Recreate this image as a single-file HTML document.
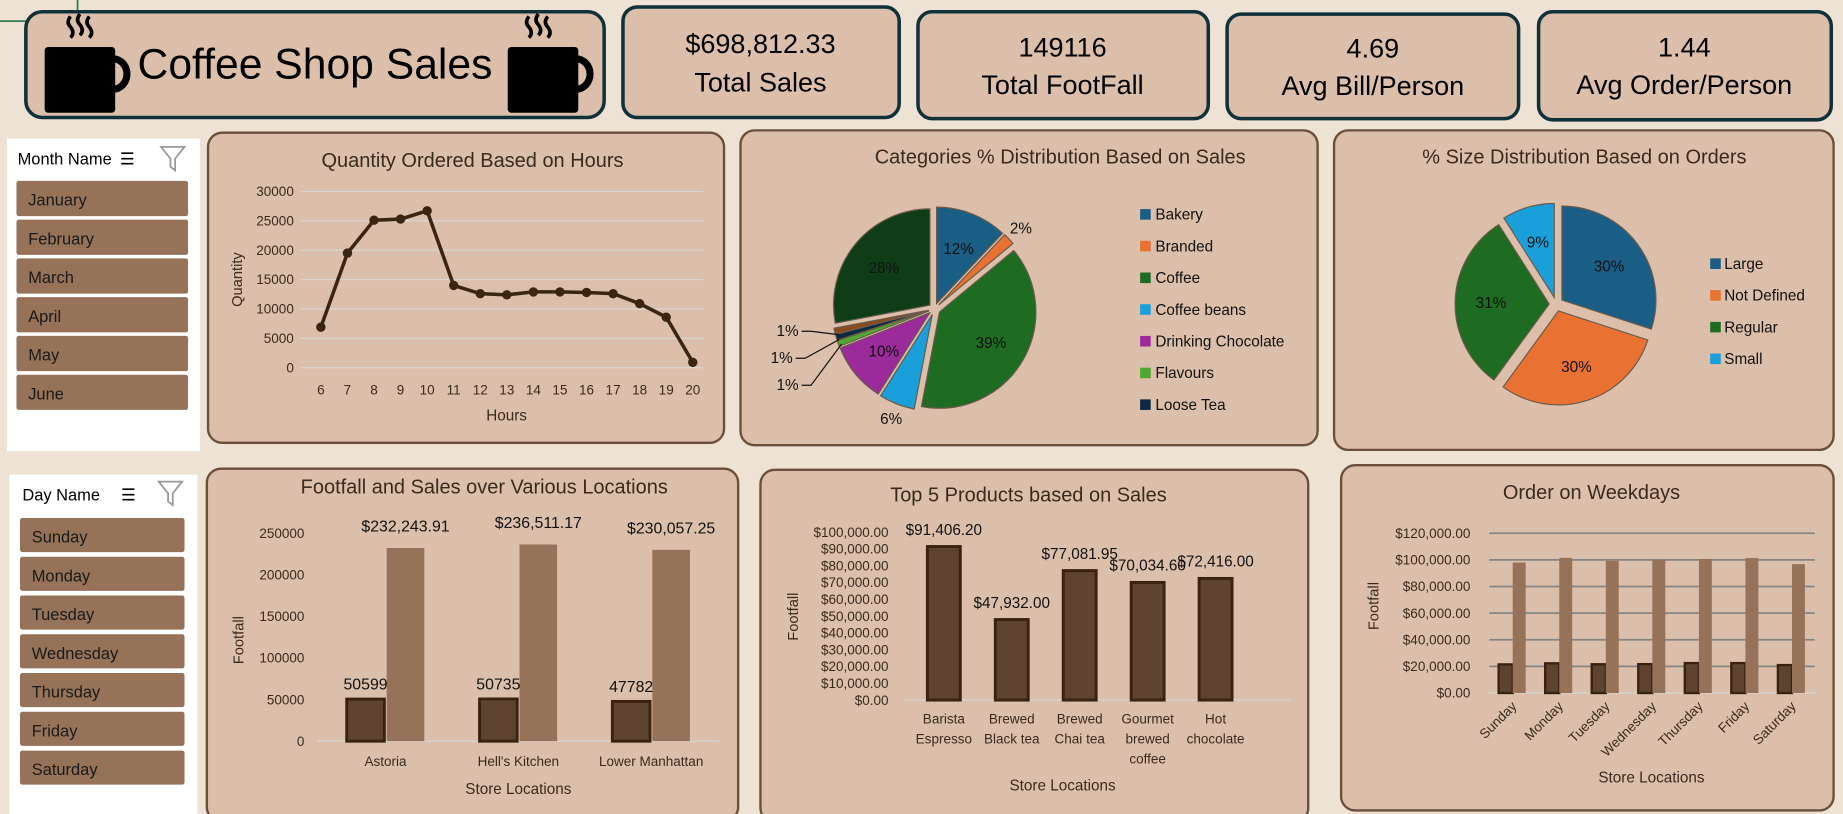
<!DOCTYPE html>
<html><head><meta charset="utf-8"><style>
html,body{margin:0;padding:0;background:#ede2d4;overflow:hidden}
svg{display:block;font-family:"Liberation Sans Narrow","Liberation Sans",sans-serif}
</style></head><body>
<svg id="root" width="1843" height="814" viewBox="0 0 1568 693" preserveAspectRatio="none" xmlns="http://www.w3.org/2000/svg">
<rect x="0" y="0" width="1568" height="693" fill="#ede2d4"/>
<path d="M0 18 H24 M66 0 V10" stroke="#2e7d4f" stroke-width="1.5" fill="none"/>
<g>
<rect x="22" y="10" width="492" height="90" rx="14" fill="#dbbfaa" stroke="#10303a" stroke-width="3"/>
<g>
<path d="M60 14 q-4 5 0 9 q4 5 0 9 M68 12 q-4 5 0 9 q4 5 0 9 M76 14 q-4 5 0 9 q4 5 0 9" stroke="#000" stroke-width="3" fill="none"/>
<rect x="38" y="40" width="60" height="56" rx="3" fill="#000"/>
<path d="M96 50 a12 13 0 0 1 0 26" stroke="#000" stroke-width="6" fill="none"/>
</g>
<g>
<path d="M450 14 q-4 5 0 9 q4 5 0 9 M458 12 q-4 5 0 9 q4 5 0 9 M466 14 q-4 5 0 9 q4 5 0 9" stroke="#000" stroke-width="3" fill="none"/>
<rect x="432" y="40" width="60" height="56" rx="3" fill="#000"/>
<path d="M490 50 a12 13 0 0 1 0 26" stroke="#000" stroke-width="6" fill="none"/>
</g>
<text x="117" y="67" font-size="36" textLength="302" lengthAdjust="spacingAndGlyphs" fill="#000">Coffee Shop Sales</text>
</g>
<g>
<rect x="530" y="6" width="235" height="94" rx="12" fill="#dbbfaa" stroke="#10303a" stroke-width="3"/>
<text x="647" y="45" text-anchor="middle" font-size="23">$698,812.33</text>
<text x="647" y="78" text-anchor="middle" font-size="23">Total Sales</text></g>
<g>
<rect x="781" y="10" width="247" height="91" rx="12" fill="#dbbfaa" stroke="#10303a" stroke-width="3"/>
<text x="904" y="48" text-anchor="middle" font-size="23">149116</text>
<text x="904" y="80" text-anchor="middle" font-size="23">Total FootFall</text></g>
<g>
<rect x="1044" y="12" width="248" height="89" rx="12" fill="#dbbfaa" stroke="#10303a" stroke-width="3"/>
<text x="1168" y="49" text-anchor="middle" font-size="23">4.69</text>
<text x="1168" y="81" text-anchor="middle" font-size="23">Avg Bill/Person</text></g>
<g>
<rect x="1309" y="10" width="249" height="92" rx="12" fill="#dbbfaa" stroke="#10303a" stroke-width="3"/>
<text x="1433" y="48" text-anchor="middle" font-size="23">1.44</text>
<text x="1433" y="80" text-anchor="middle" font-size="23">Avg Order/Person</text></g>
<g id="monthSlicer">
<rect x="6" y="118" width="164" height="266" fill="#fff"/>
<text x="15" y="140" font-size="14">Month Name</text>
<text x="102" y="140" font-size="14">☰</text>
<path d="M137 125 h20 l-8 10 v10 l-4 -3 v-7 z" fill="none" stroke="#999" stroke-width="1.5"/>
</g>
<g id="daySlicer">
<rect x="8" y="404" width="160" height="289" fill="#fff"/>
<text x="19" y="426" font-size="14">Day Name</text>
<text x="103" y="426" font-size="14">☰</text>
<path d="M135 410 h20 l-8 10 v10 l-4 -3 v-7 z" fill="none" stroke="#999" stroke-width="1.5"/>
</g>
<rect x="177" y="113" width="439" height="264" rx="12" fill="#dbbfaa" stroke="#6b4f3a" stroke-width="2"/>
<rect x="630" y="111" width="491" height="268" rx="12" fill="#dbbfaa" stroke="#6b4f3a" stroke-width="2"/>
<rect x="1135" y="111" width="425" height="272" rx="12" fill="#dbbfaa" stroke="#6b4f3a" stroke-width="2"/>
<rect x="176" y="399" width="452" height="300" rx="12" fill="#dbbfaa" stroke="#6b4f3a" stroke-width="2"/>
<rect x="647" y="400" width="466" height="300" rx="12" fill="#dbbfaa" stroke="#6b4f3a" stroke-width="2"/>
<rect x="1141" y="396" width="419" height="294" rx="12" fill="#dbbfaa" stroke="#6b4f3a" stroke-width="2"/>
<g id="charts"></g>
</svg>
<script>
const hours=[6,7,8,9,10,11,12,13,14,15,16,17,18,19,20];
const hourQty=[6900,19500,25100,25300,26700,14000,12600,12400,12900,12900,12800,12600,10900,8600,900];
const hourTicks=[0,5000,10000,15000,20000,25000,30000];
const catNames=["Bakery","Branded","Coffee","Coffee beans","Drinking Chocolate","Flavours","Loose Tea","Packaged Chocolate","Tea"];
const catPct=[12,2,39,6,10,1,1,1,28];
const catColors=["#1a5e85","#e97132","#1e6b22","#199fd9","#9b2a9b","#4ea72e","#0e2841","#8a4b1d","#0f3d17"];
const sizeNames=["Large","Not Defined","Regular","Small"];
const sizePct=[30,30,31,9];
const sizeColors=["#1a5e85","#e97132","#1e6b22","#199fd9"];
const locNames=["Astoria","Hell's Kitchen","Lower Manhattan"];
const locFootfall=[50599,50735,47782];
const locSales=[232243.91,236511.17,230057.25];
const locTicks=[0,50000,100000,150000,200000,250000];
const prodNames=[["Barista","Espresso"],["Brewed","Black tea"],["Brewed","Chai tea"],["Gourmet","brewed","coffee"],["Hot","chocolate"]];
const prodSales=[91406.20,47932.00,77081.95,70034.60,72416.00];
const prodTicks=[0,10000,20000,30000,40000,50000,60000,70000,80000,90000,100000];
const dayNames=["Sunday","Monday","Tuesday","Wednesday","Thursday","Friday","Saturday"];
const dayFoot=[21500,22300,21600,21700,22500,22500,21000];
const daySales=[98000,101500,99300,100000,100700,101400,96800];
const dayTicks=[0,20000,40000,60000,80000,100000,120000];
const months=["January","February","March","April","May","June"];

const NS="http://www.w3.org/2000/svg";
const root=document.getElementById('charts');
function mk(tag,a,parent,txt){const e=document.createElementNS(NS,tag);for(const k in a)e.setAttribute(k,a[k]);if(txt!==undefined)e.textContent=txt;(parent||root).appendChild(e);return e;}
function fmt$(v){return '$'+v.toLocaleString('en-US',{minimumFractionDigits:2,maximumFractionDigits:2});}
const TXT="#3a2a1e";

months.forEach((m,i)=>{
  const b=mk('rect',{x:14,y:154+i*33,width:146,height:30,rx:2,fill:"#967259"},document.getElementById('monthSlicer'));
  
  
  mk('text',{x:24,y:175+i*33,"font-size":14,fill:"#1a1a1a"},document.getElementById('monthSlicer'),m);
});
dayNames.forEach((m,i)=>{
  const b=mk('rect',{x:17,y:441+i*33,width:140,height:29,rx:2,fill:"#967259"},document.getElementById('daySlicer'));
  
  
  mk('text',{x:27,y:462+i*33,"font-size":14,fill:"#1a1a1a"},document.getElementById('daySlicer'),m);
});

(function(){
  const g=mk('g',{});
  
  
  mk('text',{x:402,y:142,"text-anchor":"middle","font-size":17,fill:TXT},g,"Quantity Ordered Based on Hours");
  const y=v=>313-v/30000*150, x=i=>273+i*22.6;
  hourTicks.forEach(t=>{mk('line',{x1:256,x2:598,y1:y(t),y2:y(t),stroke:"#d8d8d8","stroke-width":1},g);mk('text',{x:250,y:y(t)+4,"text-anchor":"end","font-size":11.5,fill:TXT},g,t);});
  hours.forEach((h,i)=>mk('text',{x:x(i),y:336,"text-anchor":"middle","font-size":11.5,fill:TXT},g,h));
  mk('text',{x:431,y:358,"text-anchor":"middle","font-size":13,fill:TXT},g,"Hours");
  mk('text',{x:0,y:0,transform:"translate(206,238) rotate(-90)","text-anchor":"middle","font-size":12.5,fill:TXT},g,"Quantity");
  const line=mk('polyline',{points:hourQty.map((v,i)=>x(i)+','+y(v)).join(' '),fill:"none",stroke:"#3a2412","stroke-width":3},g);
  
  
  hourQty.forEach((v,i)=>{const c=mk('circle',{cx:x(i),cy:y(v),r:4,fill:"#3a2412"},g);
    
    });
})();

function pie(name,pcts,colors,cx,cy,r,ex,g,labels){
  let a=-Math.PI/2;
  pcts.forEach((p,i)=>{
    const sw=p/100*2*Math.PI, m=a+sw/2;
    const ox=Math.cos(m)*ex, oy=Math.sin(m)*ex;
    const x1=cx+ox+r*Math.cos(a),y1=cy+oy+r*Math.sin(a),x2=cx+ox+r*Math.cos(a+sw),y2=cy+oy+r*Math.sin(a+sw);
    const s=mk('path',{d:`M${cx+ox} ${cy+oy} L${x1} ${y1} A${r} ${r} 0 ${sw>Math.PI?1:0} 1 ${x2} ${y2} Z`,fill:colors[i],stroke:"#6b5a4a","stroke-width":1},g);
    
    
    if(p>=2){
      const rr=p<5?r+14:r*0.62;
      const lx=cx+ox+rr*Math.cos(m), ly=cy+oy+rr*Math.sin(m);
      const out = p===6 ? r+18 : null;
      const px= out?cx+out*Math.cos(m):lx, py= out?cy+out*Math.sin(m):ly;
      mk('text',{x:px,y:py+5,"text-anchor":"middle","font-size":13,fill:"#111"},g,p+'%');
    }
    a+=sw;
  });
}
(function(){
  const g=mk('g',{});
  
  
  mk('text',{x:902,y:139,"text-anchor":"middle","font-size":17,fill:TXT},g,"Categories % Distribution Based on Sales");
  pie('category',catPct,catColors,795,263,82,5,g,catNames);
  [[678,282,714,285],[673,305,714,289],[678,328,716,293]].forEach(l=>{
    mk('text',{x:l[0]-8,y:l[1]+4,"text-anchor":"middle","font-size":13,fill:"#111"},g,"1%");
    mk('polyline',{points:`${l[0]+4},${l[1]} ${l[0]+12},${l[1]} ${l[2]},${l[3]}`,fill:"none",stroke:"#111","stroke-width":1},g);
  });
  catNames.slice(0,7).forEach((n,i)=>{
    const e=mk('rect',{x:970,y:178+i*27,width:9,height:9,fill:catColors[i]},g);
    
    
    mk('text',{x:983,y:187+i*27,"font-size":13,fill:"#111"},g,n);
  });
})();
(function(){
  const g=mk('g',{});
  
  
  mk('text',{x:1348,y:139,"text-anchor":"middle","font-size":17,fill:TXT},g,"% Size Distribution Based on Orders");
  pie('size',sizePct,sizeColors,1324,259,80,6,g,sizeNames);
  sizeNames.forEach((n,i)=>{
    const e=mk('rect',{x:1455,y:220+i*27,width:9,height:9,fill:sizeColors[i]},g);
    
    
    mk('text',{x:1467,y:229+i*27,"font-size":13,fill:"#111"},g,n);
  });
})();
(function(){
  const g=mk('g',{});
  
  
  mk('text',{x:412,y:420,"text-anchor":"middle","font-size":17,fill:TXT},g,"Footfall and Sales over Various Locations");
  const y=v=>631-v/250000*177, xc=i=>328+i*113;
  locTicks.forEach(t=>mk('text',{x:259,y:y(t)+4,"text-anchor":"end","font-size":11.5,fill:TXT},g,t));
  mk('line',{x1:270,x2:612,y1:631,y2:631,stroke:"#d8d8d8"},g);
  locNames.forEach((n,i)=>{
    const a=mk('rect',{x:xc(i)-33,y:y(locFootfall[i]),width:32,height:631-y(locFootfall[i]),fill:"#5e4430",stroke:"#3a2210","stroke-width":2.5},g);
    
    
    const b=mk('rect',{x:xc(i)+1,y:y(locSales[i]),width:32,height:631-y(locSales[i]),fill:"#967259"},g);
    
    
    mk('text',{x:xc(i)-17,y:y(locFootfall[i])-8,"text-anchor":"middle","font-size":13.5,fill:"#111"},g,locFootfall[i]);
    mk('text',{x:xc(i)+17,y:y(locSales[i])-14,"text-anchor":"middle","font-size":13.5,fill:"#111"},g,fmt$(locSales[i]));
    mk('text',{x:xc(i),y:652,"text-anchor":"middle","font-size":11.5,fill:TXT},g,n);
  });
  mk('text',{x:441,y:676,"text-anchor":"middle","font-size":13,fill:TXT},g,"Store Locations");
  mk('text',{x:0,y:0,transform:"translate(207,545) rotate(-90)","text-anchor":"middle","font-size":12.5,fill:TXT},g,"Footfall");
})();
(function(){
  const g=mk('g',{});
  
  
  mk('text',{x:875,y:427,"text-anchor":"middle","font-size":17,fill:TXT},g,"Top 5 Products based on Sales");
  const y=v=>596-v/100000*143, xc=i=>803+i*57.8;
  prodTicks.forEach(t=>mk('text',{x:756,y:y(t)+4,"text-anchor":"end","font-size":11.5,fill:TXT},g,fmt$(t)));
  mk('line',{x1:770,x2:1098,y1:596,y2:596,stroke:"#d8d8d8"},g);
  prodSales.forEach((v,i)=>{
    const b=mk('rect',{x:xc(i)-14,y:y(v),width:28,height:596-y(v),fill:"#5e4430",stroke:"#3a2210","stroke-width":2.5},g);
    
    
    mk('text',{x:xc(i),y:y(v)-10,"text-anchor":"middle","font-size":13,fill:"#111"},g,fmt$(v));
    prodNames[i].forEach((l,j)=>mk('text',{x:xc(i),y:616+j*17,"text-anchor":"middle","font-size":11.5,fill:TXT},g,l));
  });
  mk('text',{x:904,y:673,"text-anchor":"middle","font-size":13,fill:TXT},g,"Store Locations");
  mk('text',{x:0,y:0,transform:"translate(679,525) rotate(-90)","text-anchor":"middle","font-size":12.5,fill:TXT},g,"Footfall");
})();
(function(){
  const g=mk('g',{});
  
  
  mk('text',{x:1354,y:425,"text-anchor":"middle","font-size":17,fill:TXT},g,"Order on Weekdays");
  const y=v=>590-v/120000*136, xc=i=>1287+i*39.6;
  dayTicks.forEach(t=>{mk('line',{x1:1267,x2:1544,y1:y(t),y2:y(t),stroke:t?"#858585":"#d8d8d8","stroke-width":t?1.5:1},g);
    mk('text',{x:1251,y:y(t)+4,"text-anchor":"end","font-size":11.5,fill:TXT},g,fmt$(t));});
  dayNames.forEach((n,i)=>{
    const a=mk('rect',{x:xc(i)-12,y:y(dayFoot[i]),width:12,height:590-y(dayFoot[i]),fill:"#5e4430",stroke:"#3a2210","stroke-width":2},g);
    
    
    const b=mk('rect',{x:xc(i),y:y(daySales[i]),width:11,height:590-y(daySales[i]),fill:"#967259"},g);
    
    
    mk('text',{x:0,y:0,transform:`translate(${xc(i)+4},${602}) rotate(-45)`,"text-anchor":"end","font-size":11.5,fill:TXT},g,n);
  });
  mk('text',{x:1405,y:666,"text-anchor":"middle","font-size":13,fill:TXT},g,"Store Locations");
  mk('text',{x:0,y:0,transform:"translate(1173,516) rotate(-90)","text-anchor":"middle","font-size":12.5,fill:TXT},g,"Footfall");
})();
</script>
</body></html>
